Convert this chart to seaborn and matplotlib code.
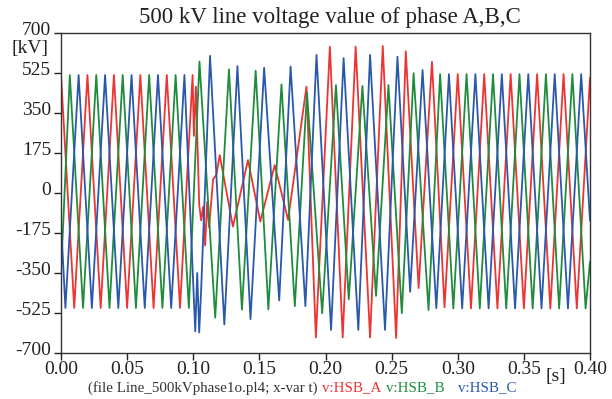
import numpy as np
import pandas as pd
import matplotlib
matplotlib.use("Agg")
import matplotlib.pyplot as plt
import matplotlib.transforms as mtransforms
import seaborn as sns

# extrema (and a few in-between points), time [s] / voltage [kV]
a_t = [0.00, 0.01, 0.02, 0.03, 0.04, 0.05, 0.06, 0.07, 0.08, 0.09, 0.0995,
       0.1005, 0.102, 0.1045, 0.106, 0.1075, 0.109, 0.1105, 0.112, 0.115, 0.1175,
       0.120, 0.130, 0.1414, 0.1507, 0.1616, 0.1717, 0.1856, 0.1927, 0.2033,
       0.213, 0.2228, 0.2337, 0.2433, 0.2534, 0.2607, 0.2704, 0.2805, 0.29,
       0.30, 0.31, 0.32, 0.33, 0.34, 0.35, 0.36, 0.37, 0.38, 0.39, 0.40]
a_v = [516, -503, 516, -503, 516, -503, 516, -503, 516, -503, 516,
       250, 465, -50, -120, -60, -230, -40, -150, 60, 80,
       166, -147, 144, -125, 122, -118, 465, -632, 640,
       -632, 640, -632, 643, -634, 620, -416, 574, -500,
       520, -505, 520, -505, 520, -505, 520, -505, 520, -505, 505]

b_t = [0.00, 0.00667, 0.01667, 0.02667, 0.03667, 0.04667, 0.05667, 0.06667,
       0.07667, 0.08667, 0.09667, 0.1047, 0.1166, 0.127, 0.1368, 0.1472,
       0.1568, 0.1667, 0.1768, 0.186, 0.1975, 0.2079, 0.2176, 0.2279, 0.2382,
       0.2476, 0.2577, 0.2666, 0.2779, 0.28667, 0.29667, 0.30667, 0.31667,
       0.32667, 0.33667, 0.34667, 0.35667, 0.36667, 0.37667, 0.38667, 0.39667, 0.40]
b_v = [-350, 516, -503, 516, -503, 516, -503, 516,
       -503, 516, -503, 575, -545, 541, -510, 535,
       -509, 475, -495, 440, -526, 472, -465, 468, -450,
       472, -526, 524, -512, 520, -505, 520, -505,
       520, -505, 520, -505, 520, -505, 520, -505, -300]

c_t = [0.00, 0.00333, 0.01333, 0.02333, 0.03333, 0.04333, 0.05333, 0.06333,
       0.07333, 0.08333, 0.09333, 0.1015, 0.103, 0.1045, 0.106, 0.1127, 0.1235,
       0.1334, 0.1433, 0.1536, 0.165, 0.1736, 0.1848, 0.1932, 0.2042, 0.2137,
       0.2248, 0.2337, 0.245, 0.2544, 0.264, 0.2734, 0.2838, 0.29333, 0.30333,
       0.31333, 0.32333, 0.33333, 0.34333, 0.35333, 0.36333, 0.37333, 0.38333,
       0.39333, 0.40]
c_v = [-125, -503, 516, -503, 516, -503, 516, -503,
       516, -503, 516, -605, -350, -610, -420, 600, -575,
       555, -552, 548, -470, 553, -495, 604, -599, 590,
       -599, 604, -599, 596, -432, 538, -504, 520, -505,
       520, -505, 520, -505, 520, -505, 520, -505,
       520, -120]

phases = ["v:HSB_A", "v:HSB_B", "v:HSB_C"]
colors = ["#ee3333", "#1e8c3c", "#2a58aa"]
x_ticks = [0.00, 0.05, 0.10, 0.15, 0.20, 0.25, 0.30, 0.35, 0.40]
y_ticks = [-700, -525, -350, -175, 0, 175, 350, 525, 700]

df = pd.concat([
    pd.DataFrame({"t": a_t, "v": a_v, "phase": phases[0]}),
    pd.DataFrame({"t": b_t, "v": b_v, "phase": phases[1]}),
    pd.DataFrame({"t": c_t, "v": c_v, "phase": phases[2]}),
], ignore_index=True)

sns.set_style("ticks")
plt.rcParams["font.family"] = ["Liberation Serif", "DejaVu Serif"]

fig = plt.figure(figsize=(6.12, 3.99), dpi=100)
ax = fig.add_axes([61 / 612, 1 - 353 / 399, 529 / 612, 320 / 399])

sns.lineplot(data=df, x="t", y="v", hue="phase", palette=colors,
             estimator=None, sort=False, linewidth=1.3, legend=False, ax=ax)

ax.set_xlim(0, 0.40)
ax.set_ylim(-700, 700)
ax.set_xticks(x_ticks)
ax.set_xticklabels([f"{x:.2f}" for x in x_ticks])
ax.set_yticks(y_ticks)
ax.set_yticklabels([str(y) for y in y_ticks])
ax.set_xlabel("")
ax.set_ylabel("")
ax.tick_params(direction="out", length=5, width=1, labelsize=14, colors="#222222")
ax.tick_params(axis="x", pad=1)
ax.tick_params(axis="y", pad=2)
for s in ax.spines.values():
    s.set_color("#333333")
    s.set_linewidth(1)

# y tick labels sit a few pixels above their ticks in the reference
shift = mtransforms.ScaledTranslation(0, 0.045, fig.dpi_scale_trans)
for lab in ax.get_yticklabels():
    lab.set_transform(lab.get_transform() + shift)

fig.text(330 / 612, 1 - 17 / 399, "500 kV line voltage value of phase A,B,C",
         ha="center", va="center", fontsize=16.5, color="#222222")
fig.text(30 / 612, 1 - 48 / 399, "[kV]", ha="center", va="center", fontsize=14, color="#222222")
fig.text(556 / 612, 1 - 377 / 399, "[s]", ha="center", va="center", fontsize=14, color="#222222")

fig.text(88 / 612, 1 - 388 / 399, "(file Line_500kVphase1o.pl4; x-var t)",
         ha="left", va="center", fontsize=10.8, color="#333333")
fig.text(322 / 612, 1 - 388 / 399, phases[0], ha="left", va="center", fontsize=10.8, color=colors[0])
fig.text(386 / 612, 1 - 388 / 399, phases[1], ha="left", va="center", fontsize=10.8, color=colors[1])
fig.text(458 / 612, 1 - 388 / 399, phases[2], ha="left", va="center", fontsize=10.8, color=colors[2])

fig.savefig("out.png", dpi=100)
